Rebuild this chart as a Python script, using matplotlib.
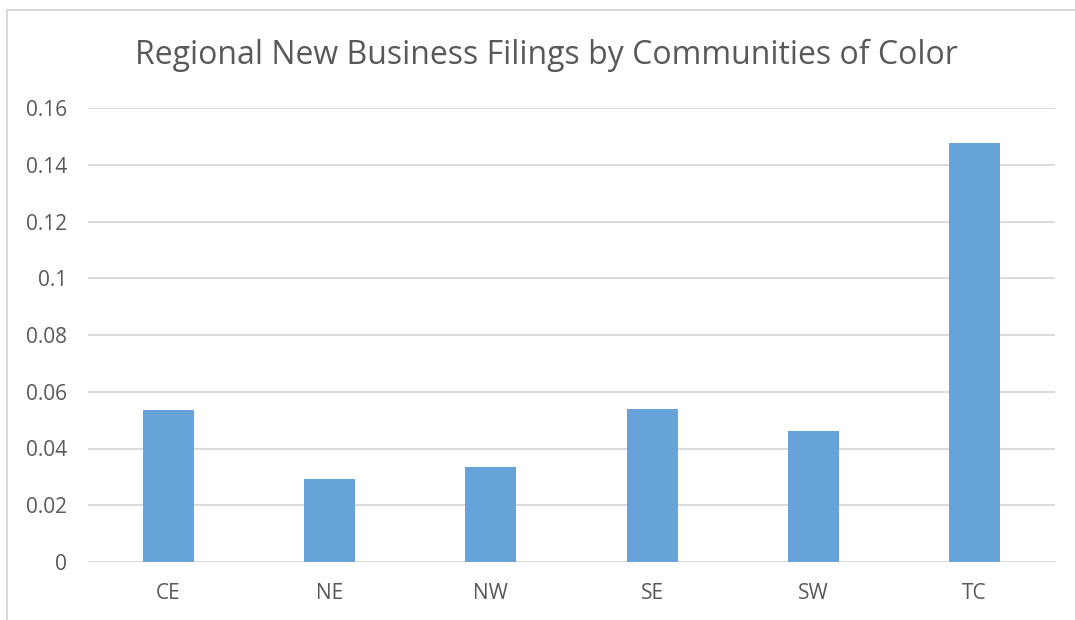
import matplotlib.pyplot as plt
from matplotlib.lines import Line2D

# data
regions = ["CE", "NE", "NW", "SE", "SW", "TC"]
filings = [0.0535, 0.0293, 0.0334, 0.0538, 0.0462, 0.1475]
yticks = [0, 0.02, 0.04, 0.06, 0.08, 0.1, 0.12, 0.14, 0.16]
ytick_labels = ["0", "0.02", "0.04", "0.06", "0.08", "0.1", "0.12", "0.14", "0.16"]

W, H = 1075, 620
fig = plt.figure(figsize=(W / 100, H / 100), dpi=100)
plt.rcParams['font.family'] = ['Open Sans', 'DejaVu Sans']

# plot area in pixels: x 88..1055, y 108..562
ax = fig.add_axes([88 / W, 1 - 562 / H, (1055 - 88) / W, (562 - 108) / H])
x = range(len(regions))
ax.bar(x, filings, width=0.317, color="#65A3D9", zorder=3)

ax.set_xlim(-0.5, len(regions) - 0.5)
ax.set_ylim(0, 0.16)
ax.set_yticks(yticks)
ax.set_yticklabels(ytick_labels)
ax.set_xticks(list(x))
ax.set_xticklabels(regions)
ax.grid(axis="y", color="#D9D9D9", linewidth=1.3, zorder=0)
for s in ax.spines.values():
    s.set_visible(False)
ax.tick_params(axis="both", length=0, colors="#595959", labelsize=15)
ax.tick_params(axis="y", pad=15)
ax.tick_params(axis="x", pad=15)

fig.text(546 / W, 1 - 55 / H, "Regional New Business Filings by Communities of Color",
         ha="center", va="center", fontsize=23, color="#595959")

# outer chart border (left and top only visible)
fig.add_artist(Line2D([7 / W, 7 / W], [0, 1 - 10 / H], transform=fig.transFigure,
                      color="#D9D9D9", linewidth=1.5))
fig.add_artist(Line2D([7 / W, 1], [1 - 10 / H, 1 - 10 / H], transform=fig.transFigure,
                      color="#D9D9D9", linewidth=1.5))

fig.savefig("out.png", dpi=100)
